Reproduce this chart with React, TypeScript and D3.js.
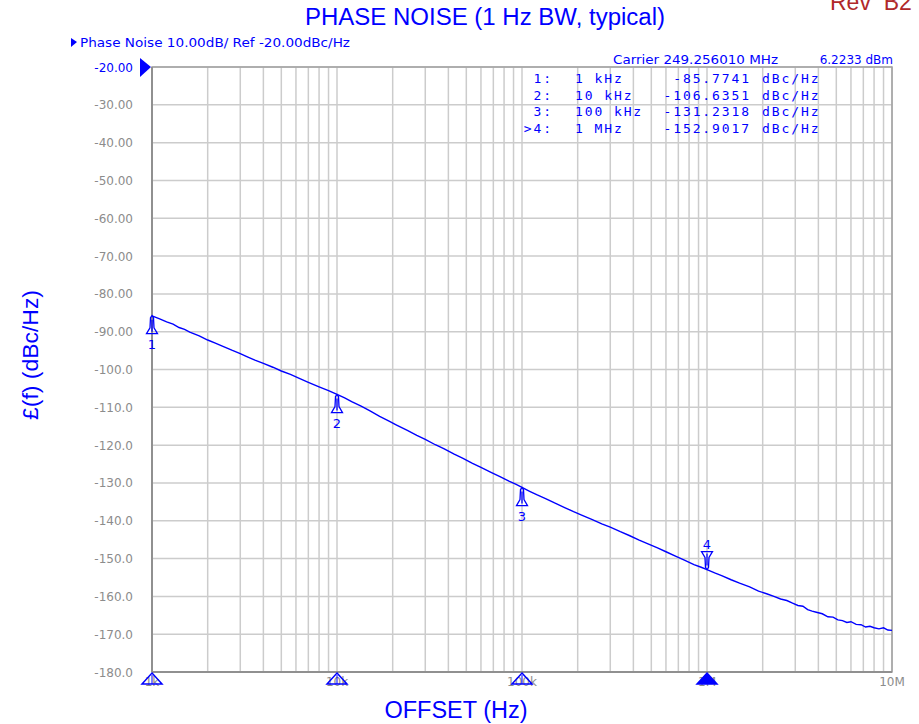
import React, { useEffect, useRef } from 'react';
import * as d3 from 'd3';

// trace: offset (Hz) vs phase noise (dBc/Hz)
const offsets = [
  1000, 1100, 1200, 1300, 1400, 1500, 1600, 1800, 2000, 2200, 2400, 2700, 3000, 3300, 3600, 4000, 4500, 5000, 5600, 6300,
  7000, 8000, 9000, 10000, 11000, 12000, 13500, 15000, 17000, 19000, 21000, 24000, 27000, 30000, 34000, 38000, 43000,
  48000, 54000, 60000, 68000, 76000, 85000, 93000, 100000, 110000, 120000, 135000, 150000, 170000, 190000, 210000,
  240000, 270000, 300000, 340000, 380000, 430000, 480000, 540000, 600000, 680000, 760000, 850000, 930000, 1000000,
  1100000, 1200000, 1350000, 1500000, 1700000, 1900000, 2100000, 2300000, 2500000, 2700000, 2900000, 3100000, 3300000,
  3500000, 3700000, 3900000, 4200000, 4500000, 4800000, 5100000, 5400000, 5700000, 6000000, 6400000, 6800000, 7200000,
  7600000, 8000000, 8500000, 9000000, 9500000, 10000000,
];
const noise = [
  -85.8, -86.6, -87.4, -88.0, -88.9, -89.4, -90.1, -91.1, -92.2, -93.0, -93.8, -94.9, -95.8, -96.7, -97.5, -98.4, -99.4,
  -100.4, -101.3, -102.4, -103.4, -104.6, -105.6, -106.6, -107.5, -108.5, -109.7, -110.9, -112.4, -113.6, -114.7, -116.1,
  -117.4, -118.5, -119.9, -121.0, -122.4, -123.5, -124.8, -125.9, -127.2, -128.3, -129.5, -130.4, -131.2, -132.2, -133.1,
  -134.2, -135.3, -136.5, -137.6, -138.5, -139.7, -140.8, -141.7, -142.9, -143.9, -145.1, -146.1, -147.2, -148.2, -149.4,
  -150.5, -151.6, -152.3, -152.9, -153.8, -154.5, -155.6, -156.5, -157.5, -158.6, -159.3, -160.0, -160.7, -161.1, -161.8,
  -162.4, -162.6, -163.5, -163.9, -164.2, -164.6, -165.4, -165.5, -166.2, -166.4, -166.9, -166.7, -167.4, -167.5, -168.1,
  -167.9, -168.3, -168.6, -168.3, -168.9, -169.0,
];

const markerOffsets = [1e3, 1e4, 1e5, 1e6];
const markerValues = [-85.7741, -106.6351, -131.2318, -152.9017];
const markerNames = ['1:', '2:', '3:', '>4:'];
const markerFreqLabels = ['1 kHz', '10 kHz', '100 kHz', '1 MHz'];
const markerValueLabels = ['-85.7741', '-106.6351', '-131.2318', '-152.9017'];

const yTicks = [-20, -30, -40, -50, -60, -70, -80, -90, -100, -110, -120, -130, -140, -150, -160, -170, -180];
const yTickLabels = ['-20.00', '-30.00', '-40.00', '-50.00', '-60.00', '-70.00', '-80.00', '-90.00', '-100.0', '-110.0',
  '-120.0', '-130.0', '-140.0', '-150.0', '-160.0', '-170.0', '-180.0'];
const xTicks = [1e3, 1e4, 1e5, 1e6, 1e7];
const xTickLabels = ['1k', '10k', '100k', '1M', '10M'];

const W = 919, H = 724;
const BLUE = '#0000ff';
const GRAY = '#8c8c8c';
const MONO = '"DejaVu Sans Mono", monospace';
const SANS = '"DejaVu Sans", sans-serif';
const ARIAL = '"Liberation Sans", Arial, sans-serif';

const App: React.FC = () => {
  const svgRef = useRef<SVGSVGElement>(null);

  useEffect(() => {
    if (!svgRef.current) return;
    const svg = d3.select(svgRef.current);
    svg.selectAll('*').remove();

    const x = d3.scaleLog().domain([1e3, 1e7]).range([152, 892]);
    const y = d3.scaleLinear().domain([-20, -180]).range([67, 672]);
    const [x0, x1] = x.range();
    const [y0, y1] = y.range();

    // grid
    const grid = svg.append('g').attr('stroke', '#cccccc').attr('stroke-width', 1.5);
    grid.selectAll('line.v')
      .data(x.ticks())
      .join('line')
      .attr('x1', d => x(d)).attr('x2', d => x(d))
      .attr('y1', y0).attr('y2', y1);
    grid.selectAll('line.h')
      .data(yTicks)
      .join('line')
      .attr('x1', x0).attr('x2', x1)
      .attr('y1', d => y(d)).attr('y2', d => y(d));

    // frame
    svg.append('rect')
      .attr('x', x0).attr('y', y0)
      .attr('width', x1 - x0).attr('height', y1 - y0)
      .attr('fill', 'none').attr('stroke', '#a0a0a0').attr('stroke-width', 1.5);
    svg.append('line').attr('x1', x0).attr('x2', x0).attr('y1', y0).attr('y2', y1)
      .attr('stroke', '#909090').attr('stroke-width', 2);
    svg.append('line').attr('x1', x0).attr('x2', x1).attr('y1', y1).attr('y2', y1)
      .attr('stroke', '#909090').attr('stroke-width', 2);

    // y tick labels
    svg.append('g').selectAll('text')
      .data(yTicks)
      .join('text')
      .attr('x', 133).attr('y', d => y(d) + 4.5)
      .attr('text-anchor', 'end')
      .attr('font-family', SANS).attr('font-size', 12)
      .attr('fill', (d, i) => (i === 0 ? BLUE : GRAY))
      .text((d, i) => yTickLabels[i]);
    svg.append('path')
      .attr('d', `M140,${y0 - 9} L151,${y0} L140,${y0 + 10} Z`)
      .attr('fill', BLUE);

    // x tick labels
    svg.append('g').selectAll('text')
      .data(xTicks)
      .join('text')
      .attr('x', d => x(d)).attr('y', 686)
      .attr('text-anchor', 'middle')
      .attr('font-family', SANS).attr('font-size', 12)
      .attr('fill', GRAY)
      .text((d, i) => xTickLabels[i]);

    // trace
    const line = d3.line<number>()
      .x((d, i) => x(offsets[i]))
      .y(d => y(d));
    svg.append('path')
      .datum(noise)
      .attr('d', line)
      .attr('fill', 'none')
      .attr('stroke', BLUE)
      .attr('stroke-width', 1.4);

    // markers on trace
    const mk = svg.append('g').attr('stroke', BLUE).attr('fill', 'none').attr('stroke-width', 1.3);
    markerOffsets.forEach((f, i) => {
      const mx = x(f);
      const my = y(markerValues[i]);
      const active = i === markerOffsets.length - 1;
      const s = active ? -1 : 1;
      mk.append('path')
        .attr('d', `M${mx},${my} L${mx + 1.5},${my + s * 2} L${mx + 2},${my + s * 12} L${mx + 5.5},${my + s * 18}
          L${mx - 5.5},${my + s * 18} L${mx - 2},${my + s * 12} L${mx - 1.5},${my + s * 2} Z`);
      mk.append('line')
        .attr('x1', mx).attr('x2', mx)
        .attr('y1', my + s * 4).attr('y2', my + s * 16);
      svg.append('text')
        .attr('x', mx).attr('y', active ? my - 21 : my + 33)
        .attr('text-anchor', 'middle')
        .attr('font-family', SANS).attr('font-size', 13)
        .attr('fill', BLUE)
        .text(String(i + 1));

      // marker indicator below the x axis
      svg.append('path')
        .attr('d', `M${mx},${y1 + 1} L${mx + 10},${y1 + 12} L${mx - 10},${y1 + 12} Z`)
        .attr('fill', active ? BLUE : 'none')
        .attr('stroke', BLUE).attr('stroke-width', 1.5);
      if (!active) {
        svg.append('line')
          .attr('x1', mx).attr('x2', mx).attr('y1', y1 + 3).attr('y2', y1 + 12)
          .attr('stroke', BLUE).attr('stroke-width', 1);
      }
    });

    // marker table
    const table = svg.append('g')
      .attr('font-family', MONO).attr('font-size', 13)
      .attr('fill', BLUE).attr('letter-spacing', 1.9);
    markerNames.forEach((name, i) => {
      const ty = 83 + i * 16.5;
      table.append('text').attr('x', 553).attr('y', ty).attr('text-anchor', 'end').text(name);
      table.append('text').attr('x', 575).attr('y', ty).text(markerFreqLabels[i]);
      table.append('text').attr('x', 751).attr('y', ty).attr('text-anchor', 'end').text(markerValueLabels[i]);
      table.append('text').attr('x', 762).attr('y', ty).text('dBc/Hz');
    });

    // header texts
    svg.append('path').attr('d', 'M71,38 L77,42 L71,47 Z').attr('fill', BLUE);
    svg.append('text')
      .attr('x', 80).attr('y', 47)
      .attr('font-family', SANS).attr('font-size', 12).attr('fill', BLUE)
      .attr('textLength', 270).attr('lengthAdjust', 'spacingAndGlyphs')
      .text('Phase Noise 10.00dB/ Ref -20.00dBc/Hz');
    svg.append('text')
      .attr('x', 613).attr('y', 64)
      .attr('font-family', SANS).attr('font-size', 12).attr('fill', BLUE)
      .attr('textLength', 165).attr('lengthAdjust', 'spacingAndGlyphs')
      .text('Carrier 249.256010 MHz');
    svg.append('text')
      .attr('x', 893).attr('y', 64).attr('text-anchor', 'end')
      .attr('font-family', SANS).attr('font-size', 12).attr('fill', BLUE)
      .text('6.2233 dBm');

    // titles
    svg.append('text')
      .attr('x', 485).attr('y', 25).attr('text-anchor', 'middle')
      .attr('font-family', ARIAL).attr('font-size', 23).attr('fill', BLUE)
      .attr('textLength', 360).attr('lengthAdjust', 'spacingAndGlyphs')
      .text('PHASE NOISE (1 Hz BW, typical)');
    svg.append('text')
      .attr('x', 830).attr('y', 10)
      .attr('font-family', ARIAL).attr('font-size', 23).attr('fill', '#b0282a')
      .attr('xml:space', 'preserve')
      .text('Rev  B2');
    svg.append('text')
      .attr('x', 456).attr('y', 718).attr('text-anchor', 'middle')
      .attr('font-family', ARIAL).attr('font-size', 23).attr('fill', BLUE)
      .attr('textLength', 143).attr('lengthAdjust', 'spacingAndGlyphs')
      .text('OFFSET (Hz)');
    svg.append('text')
      .attr('transform', 'translate(38,355) rotate(-90)')
      .attr('text-anchor', 'middle')
      .attr('font-family', ARIAL).attr('font-size', 22).attr('fill', BLUE)
      .attr('textLength', 130).attr('lengthAdjust', 'spacingAndGlyphs')
      .text('£(f) (dBc/Hz)');
  }, []);

  return (
    <div style={{ position: 'fixed', left: 0, top: 0, width: W, height: H, background: '#fff' }}>
      <svg ref={svgRef} width={W} height={H} style={{ display: 'block' }} />
    </div>
  );
};

export default App;
